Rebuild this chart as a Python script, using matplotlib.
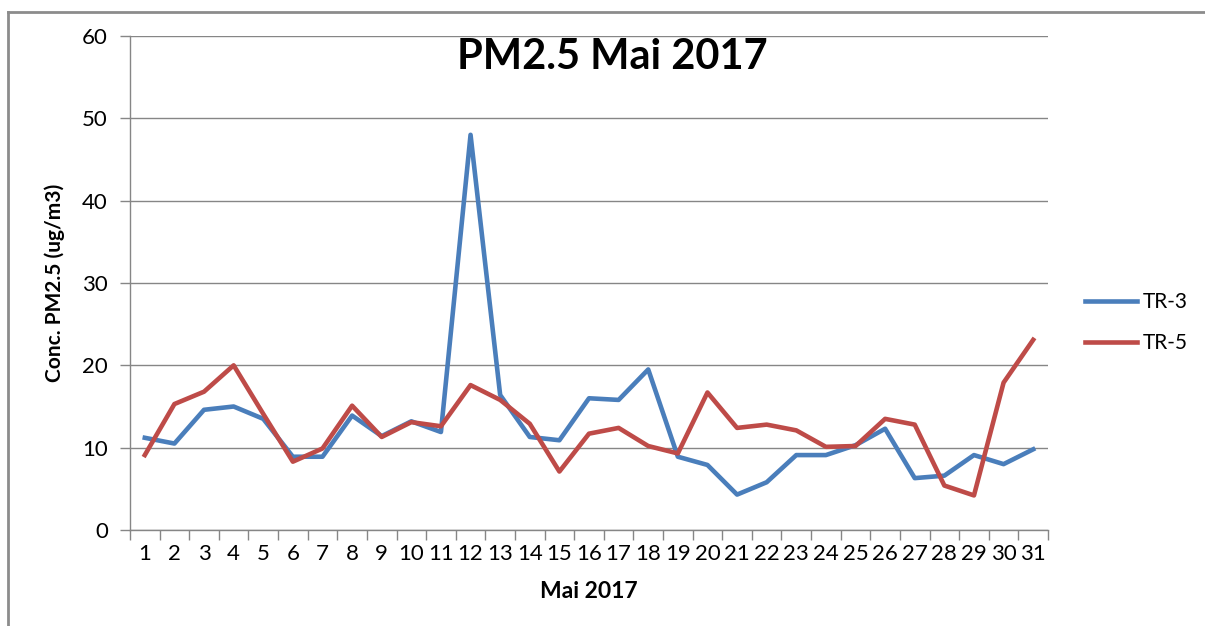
import numpy as np
import matplotlib
matplotlib.use("Agg")
import matplotlib.pyplot as plt
from matplotlib.lines import Line2D

plt.rcParams['font.family'] = ['Lato', 'DejaVu Sans']

days = [str(d) for d in range(1, 32)]
tr3 = [11.2, 10.5, 14.6, 15.0, 13.5, 8.9, 8.9, 13.9, 11.4, 13.2, 11.9, 48.0, 16.4, 11.3, 10.9, 16.0,
       15.8, 19.5, 8.9, 7.9, 4.3, 5.8, 9.1, 9.1, 10.3, 12.3, 6.3, 6.6, 9.1, 8.0, 9.8]
tr5 = [9.1, 15.3, 16.8, 20.0, 14.1, 8.3, 9.9, 15.1, 11.3, 13.1, 12.6, 17.6, 15.8, 12.9, 7.1, 11.7,
       12.4, 10.2, 9.3, 16.7, 12.4, 12.8, 12.1, 10.1, 10.2, 13.5, 12.8, 5.4, 4.2, 17.9, 23.1]
yticks = [0, 10, 20, 30, 40, 50, 60]

grey = "#868686"
W, H = 1205, 626

fig = plt.figure(figsize=(W / 100, H / 100), dpi=100)
# outer chart frame, only top and left edges show
fx, fy = 8 / W, 1 - 12 / H
fig.add_artist(Line2D([fx, 1.05], [fy, fy], transform=fig.transFigure, color="#8c8c8c", linewidth=2))
fig.add_artist(Line2D([fx, fx], [fy, -0.05], transform=fig.transFigure, color="#8c8c8c", linewidth=2))

ax = fig.add_axes([130 / W, 1 - 530 / H, 918 / W, 494 / H])
x = np.arange(1, len(days) + 1)
ax.plot(x, tr3, color="#4A7EBB", linewidth=3.3, label="TR-3", solid_joinstyle="round")
ax.plot(x, tr5, color="#BE4B48", linewidth=3.3, label="TR-5", solid_joinstyle="round")

ax.set_xlim(0.5, len(days) + 0.5)
ax.set_ylim(0, 60)
ax.set_yticks(yticks)
ax.set_xticks(x)
ax.set_xticklabels(days)
ax.set_xticks(np.arange(0.5, len(days) + 1), minor=True)
ax.tick_params(axis="x", which="major", length=0, pad=10, labelsize=16)
ax.tick_params(axis="x", which="minor", length=7, color=grey, width=1)
ax.tick_params(axis="y", length=7, color=grey, width=1, pad=9, labelsize=16)
ax.yaxis.grid(True, color=grey, linewidth=1)
ax.set_axisbelow(True)
for s in ["top", "right"]:
    ax.spines[s].set_visible(False)
for s in ["left", "bottom"]:
    ax.spines[s].set_color(grey)
    ax.spines[s].set_linewidth(1)

ax.set_xlabel("Mai 2017", fontsize=16.5, fontweight="bold", labelpad=12)
ax.set_ylabel("Conc. PM2.5 (ug/m3)", fontsize=15, fontweight="bold", labelpad=12)
fig.text(612 / W, 1 - 57 / H, "PM2.5 Mai 2017", ha="center", va="center",
         fontsize=30, fontweight="bold")

ax.legend(loc="center left", bbox_to_anchor=((1085 - 130) / 918, 0.42), frameon=False, fontsize=15,
          borderpad=0, borderaxespad=0, handlelength=2.5, handletextpad=0.25, labelspacing=1.0)

fig.savefig("out.png", dpi=100)
